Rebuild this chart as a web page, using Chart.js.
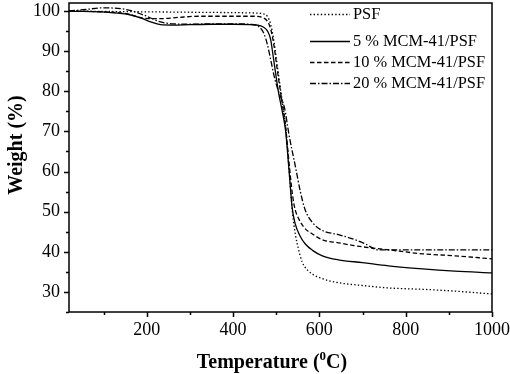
<!DOCTYPE html>
<html>
<head>
<meta charset="utf-8">
<script src="https://cdn.jsdelivr.net/npm/chart.js@4/dist/chart.umd.min.js"></script>
<style>
html,body{margin:0;padding:0;background:#fff;}
#wrap{width:510px;height:374px;position:relative;}
</style>
</head>
<body>
<div id="wrap"><canvas id="c" width="510" height="374"></canvas></div>
<script>
// ---- data ----
const seriesNames = ["PSF", "5 % MCM-41/PSF", "10 % MCM-41/PSF", "20 % MCM-41/PSF"];

const psfT = [20, 100, 200, 300, 400, 450, 470, 480, 487, 494, 503, 514, 521, 528, 533, 538, 545, 551, 560, 575, 607, 644, 700, 760, 850, 914, 1000];
const psfW = [100, 99.9, 99.8, 99.7, 99.6, 99.5, 99.3, 98.6, 96.8, 93, 86, 77.5, 72, 63, 56, 49.5, 44, 41, 37.5, 35.2, 33.3, 32.3, 31.6, 31, 30.6, 30.2, 29.5];

const m5T = [20, 117, 156, 186, 209, 232, 260, 300, 350, 400, 440, 460, 470, 480, 487, 494, 505, 515, 522, 530, 537, 544, 555, 567, 585, 607, 644, 700, 760, 839, 914, 1000];
const m5W = [100, 99.6, 99.2, 98.3, 97.3, 96.6, 96.5, 96.6, 96.7, 96.7, 96.6, 96.4, 96.0, 95.0, 93, 88, 80, 74.5, 70, 60, 51, 47, 44, 42, 40.3, 39, 38, 37.3, 36.5, 35.75, 35.2, 34.75];

const m10T = [20, 117, 156, 193, 232, 272, 320, 380, 450, 470, 480, 487, 494, 503, 514, 521, 530, 538, 544, 551, 565, 583, 607, 644, 683, 760, 839, 914, 1000];
const m10W = [100, 99.7, 99.3, 98.2, 98.1, 98.4, 98.7, 98.7, 98.7, 98.3, 97.4, 95.6, 92, 85, 77, 72, 62, 54, 50.5, 48.5, 46, 44.5, 43, 42.25, 41.5, 40.5, 39.5, 39, 38.25];

const m20T = [20, 60, 100, 156, 193, 232, 262, 300, 350, 400, 440, 460, 472, 480, 488, 497, 507, 519, 530, 545, 556, 567, 584, 607, 644, 683, 706, 736, 800, 900, 1000];
const m20W = [100, 100.4, 100.8, 100.3, 99.0, 97.3, 96.8, 96.7, 96.8, 96.8, 96.7, 96.1, 94.3, 91.5, 87.5, 83, 79.5, 76, 69, 61, 55, 50.5, 47.3, 45.3, 44.3, 43, 42, 40.5, 40.5, 40.5, 40.5];

const xMajorTicks = [200, 400, 600, 800, 1000];
const xMinorTicks = [100, 300, 500, 700, 900];
const yMajorTicks = [30, 40, 50, 60, 70, 80, 90, 100];
const yMinorTicks = [25, 35, 45, 55, 65, 75, 85, 95];

const xTitle = ["Temperature (", "0", "C)"];
const yTitle = "Weight (%)";

// ---- build ----
function pts(t, w) { return t.map((v, i) => ({x: v, y: w[i]})); }
const dashes = [[1.4, 2.2], [], [4.5, 2.5], [6, 2, 1.5, 2]];
const allData = [pts(psfT, psfW), pts(m5T, m5W), pts(m10T, m10W), pts(m20T, m20W)];

const datasets = allData.map((d, i) => ({
  label: seriesNames[i],
  data: d,
  borderColor: '#000',
  borderWidth: 1.3,
  borderDash: dashes[i],
  pointRadius: 0,
  fill: false,
  cubicInterpolationMode: 'monotone'
}));

const SERIF = "'Liberation Serif', 'Times New Roman', serif";

const decor = {
  id: 'decor',
  afterDraw(chart) {
    const ctx = chart.ctx;
    const a = chart.chartArea;
    const xs = chart.scales.x, ys = chart.scales.y;
    ctx.save();
    ctx.strokeStyle = '#000';
    ctx.setLineDash([]);
    // frame
    ctx.lineWidth = 1.5;
    ctx.strokeRect(a.left, a.top, a.right - a.left, a.bottom - a.top);
    // ticks
    ctx.lineWidth = 1.5;
    ctx.beginPath();
    xMajorTicks.forEach(v => { const p = Math.round(xs.getPixelForValue(v)) + 0.5; ctx.moveTo(p, a.bottom); ctx.lineTo(p, a.bottom + 5); });
    xMinorTicks.forEach(v => { const p = Math.round(xs.getPixelForValue(v)) + 0.5; ctx.moveTo(p, a.bottom); ctx.lineTo(p, a.bottom + 3); });
    yMajorTicks.forEach(v => { const p = Math.round(ys.getPixelForValue(v)) + 0.5; ctx.moveTo(a.left, p); ctx.lineTo(a.left - 5, p); });
    yMinorTicks.forEach(v => { const p = Math.round(ys.getPixelForValue(v)) + 0.5; ctx.moveTo(a.left, p); ctx.lineTo(a.left - 3, p); });
    ctx.stroke();

    // legend
    const lx0 = 310, lx1 = 350, tx = 353;
    const rows = [14, 41, 62, 83];
    ctx.font = "16.4px " + SERIF;
    ctx.fillStyle = '#000';
    ctx.textBaseline = 'middle';
    ctx.textAlign = 'left';
    ctx.lineWidth = 1.3;
    seriesNames.forEach((n, i) => {
      ctx.setLineDash(dashes[i]);
      ctx.beginPath();
      ctx.moveTo(lx0, rows[i] + 0.5);
      ctx.lineTo(lx1, rows[i] + 0.5);
      ctx.stroke();
      ctx.fillText(n, tx, rows[i] + 1);
    });
    ctx.setLineDash([]);

    // x title with superscript
    const big = "bold 20px " + SERIF, small = "bold 13px " + SERIF;
    ctx.font = big;
    ctx.textBaseline = 'alphabetic';
    const w1 = ctx.measureText(xTitle[0]).width;
    ctx.font = small;
    const w2 = ctx.measureText(xTitle[1]).width;
    ctx.font = big;
    const w3 = ctx.measureText(xTitle[2]).width;
    const tw = w1 + w2 + w3;
    let x = 272 - tw / 2;
    const by = 368;
    ctx.fillText(xTitle[0], x, by); x += w1;
    ctx.font = small;
    ctx.fillText(xTitle[1], x, by - 8); x += w2;
    ctx.font = big;
    ctx.fillText(xTitle[2], x, by);

    // y title
    ctx.translate(17, 145);
    ctx.rotate(-Math.PI / 2);
    ctx.textAlign = 'center';
    ctx.textBaseline = 'middle';
    ctx.fillText(yTitle, 0, 0);
    ctx.restore();
  }
};

new Chart(document.getElementById('c'), {
  type: 'line',
  data: { datasets },
  options: {
    responsive: false,
    animation: false,
    events: [],
    layout: { padding: { left: 0, right: 18, top: 3, bottom: 0 } },
    plugins: { legend: { display: false }, tooltip: { enabled: false } },
    scales: {
      x: {
        type: 'linear', min: 20, max: 1000,
        afterBuildTicks: s => { s.ticks = xMajorTicks.map(v => ({value: v})); },
        afterFit: s => { s.height = 62; s.paddingLeft = 0; s.paddingRight = 0; },
        grid: { display: false, tickLength: 0 },
        border: { display: false },
        ticks: { font: { family: SERIF, size: 18 }, color: '#000', padding: 7, maxRotation: 0, callback: v => String(v) }
      },
      y: {
        type: 'linear', min: 25, max: 102,
        afterBuildTicks: s => { s.ticks = yMajorTicks.map(v => ({value: v})); },
        afterFit: s => { s.width = 69; s.paddingTop = 0; s.paddingBottom = 0; },
        grid: { display: false, tickLength: 0 },
        border: { display: false },
        ticks: { font: { family: SERIF, size: 18 }, color: '#000', padding: 9, callback: v => String(v) }
      }
    }
  },
  plugins: [decor]
});
</script>
</body>
</html>
